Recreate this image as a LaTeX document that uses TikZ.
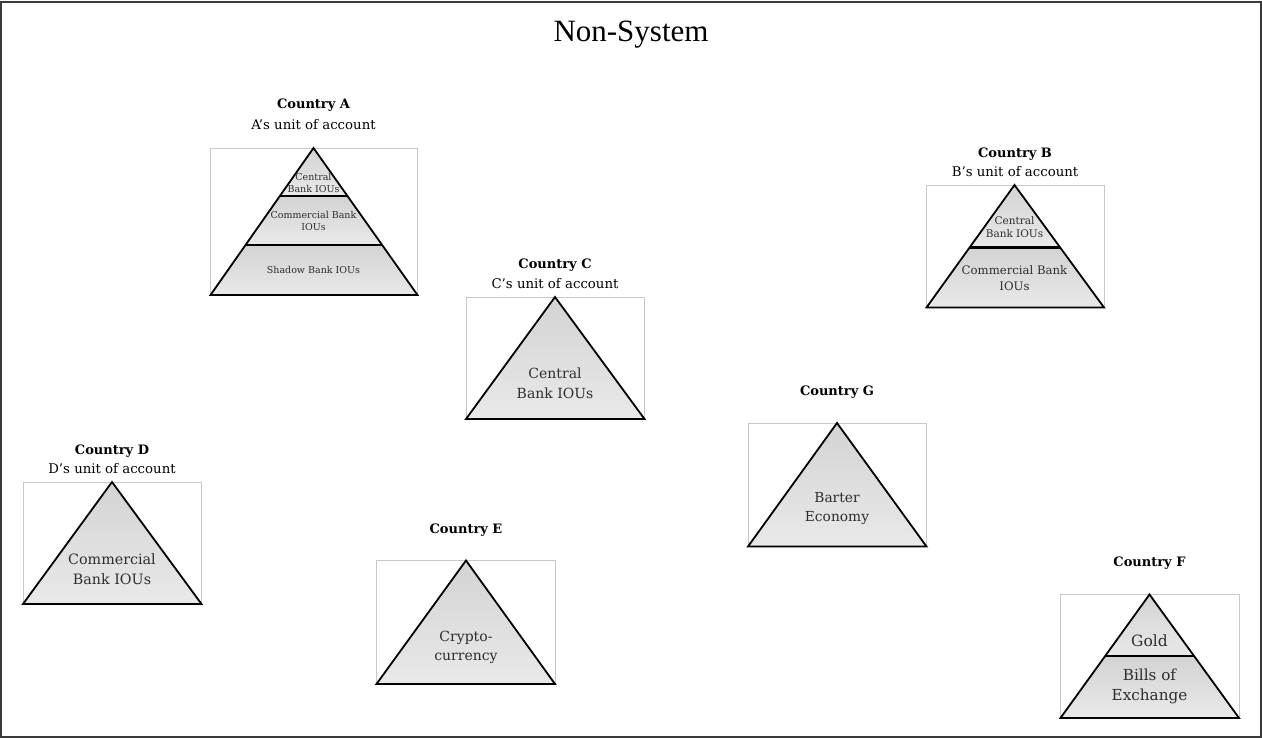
\documentclass[tikz,border=0pt]{standalone}
\usepackage{fontspec}
\setmainfont{DejaVu Serif}
\newfontfamily\titlefont{Liberation Serif}
\usetikzlibrary{calc}
\definecolor{lbl}{HTML}{2E2E2E}
\definecolor{frm}{HTML}{C8C8C8}
\definecolor{gtop}{HTML}{D3D3D3}
\definecolor{gbot}{HTML}{E9E9E9}
\definecolor{bord}{HTML}{3A3A3A}
\tikzset{
  band/.style={top color=gtop, bottom color=gbot, draw=none},
  triline/.style={draw=black, line width=1.8pt, line join=miter},
  divline/.style={draw=black, line width=2.2pt},
  frame/.style={draw=frm, line width=0.8pt},
  head/.style={font=\fontsize{13}{16}\selectfont\bfseries, inner sep=0, anchor=base},
  sub/.style={font=\fontsize{13.3}{16}\selectfont, inner sep=0, anchor=base},
  lab/.style={text=lbl, align=center, inner sep=0},
}
\begin{document}
\begin{tikzpicture}[x=1pt,y=-1pt]
\useasboundingbox (0,0) rectangle (1262,738);
\draw[draw=bord, line width=2pt] (1,2) rectangle (1261,737);
\node[font=\titlefont\fontsize{31}{31}\selectfont, inner sep=0] (title) at (631,35) {Non-System};

% ---------- Country A ----------
\coordinate (Aa) at (313.5,148); \coordinate (Al) at (210.5,295); \coordinate (Ar) at (417.5,295);
\draw[frame] (210.5,148) rectangle (417.5,295);
\path[band] (Aa) -- ($(Aa)!0.3265!(Al)$) -- ($(Aa)!0.3265!(Ar)$) -- cycle;
\path[band] ($(Aa)!0.3265!(Al)$) -- ($(Aa)!0.66!(Al)$) -- ($(Aa)!0.66!(Ar)$) -- ($(Aa)!0.3265!(Ar)$) -- cycle;
\path[band] ($(Aa)!0.66!(Al)$) -- (Al) -- (Ar) -- ($(Aa)!0.66!(Ar)$) -- cycle;
\draw[divline] ($(Aa)!0.3265!(Al)$) -- ($(Aa)!0.3265!(Ar)$);
\draw[divline] ($(Aa)!0.66!(Al)$) -- ($(Aa)!0.66!(Ar)$);
\draw[triline] (Aa) -- (Al) -- (Ar) -- cycle;
\node[head] (Ah) at (313.5,108.5) {Country A};
\node[sub] (As) at (313.5,129.5) {A’s unit of account};
\node[lab, font=\fontsize{9.5}{12}\selectfont] (A1) at (313.5,182.5) {Central\\Bank IOUs};
\node[lab, font=\fontsize{9.5}{12}\selectfont] (A2) at (313.5,221) {Commercial Bank\\IOUs};
\node[lab, font=\fontsize{9.5}{12}\selectfont] (A3) at (313.5,270) {Shadow Bank IOUs};

% ---------- Country B ----------
\coordinate (Ba) at (1014.5,185); \coordinate (Bl) at (926.5,307.5); \coordinate (Br) at (1104,307.5);
\draw[frame] (926.5,185) rectangle (1104,307.5);
\path[band] (Ba) -- ($(Ba)!0.51!(Bl)$) -- ($(Ba)!0.51!(Br)$) -- cycle;
\path[band] ($(Ba)!0.51!(Bl)$) -- (Bl) -- (Br) -- ($(Ba)!0.51!(Br)$) -- cycle;
\draw[divline] ($(Ba)!0.51!(Bl)$) -- ($(Ba)!0.51!(Br)$);
\draw[triline] (Ba) -- (Bl) -- (Br) -- cycle;
\node[head] (Bh) at (1015,157.5) {Country B};
\node[sub] (Bs) at (1015,176.5) {B’s unit of account};
\node[lab, font=\fontsize{10.5}{13.5}\selectfont] (B1) at (1014.5,227) {Central\\Bank IOUs};
\node[lab, font=\fontsize{11.7}{15.7}\selectfont] (B2) at (1014.5,278) {Commercial Bank\\IOUs};

% ---------- Country C ----------
\coordinate (Ca) at (555,297); \coordinate (Cl) at (466,419); \coordinate (Cr) at (644.5,419);
\draw[frame] (466,297) rectangle (644.5,419);
\path[band] (Ca) -- (Cl) -- (Cr) -- cycle;
\draw[triline] (Ca) -- (Cl) -- (Cr) -- cycle;
\node[head] (Ch) at (555,268.5) {Country C};
\node[sub] (Cs) at (555,288.5) {C’s unit of account};
\node[lab, font=\fontsize{14}{20}\selectfont] (C1) at (555,383) {Central\\Bank IOUs};

% ---------- Country D ----------
\coordinate (Da) at (112,482); \coordinate (Dl) at (23,604); \coordinate (Dr) at (201.5,604);
\draw[frame] (23,482) rectangle (201.5,604);
\path[band] (Da) -- (Dl) -- (Dr) -- cycle;
\draw[triline] (Da) -- (Dl) -- (Dr) -- cycle;
\node[head] (Dh) at (112,454) {Country D};
\node[sub] (Ds) at (112,473.5) {D’s unit of account};
\node[lab, font=\fontsize{14.3}{20}\selectfont] (D1) at (112,569) {Commercial\\Bank IOUs};

% ---------- Country E ----------
\coordinate (Ea) at (466,560.5); \coordinate (El) at (376.5,684); \coordinate (Er) at (555,684);
\draw[frame] (376.5,560.5) rectangle (555,684);
\path[band] (Ea) -- (El) -- (Er) -- cycle;
\draw[triline] (Ea) -- (El) -- (Er) -- cycle;
\node[head] (Eh) at (466,533) {Country E};
\node[lab, font=\fontsize{14}{19}\selectfont] (E1) at (466,647.5) {Crypto-\\currency};

% ---------- Country G ----------
\coordinate (Ga) at (837,423); \coordinate (Gl) at (748,546.5); \coordinate (Gr) at (926.5,546.5);
\draw[frame] (748,423) rectangle (926.5,546.5);
\path[band] (Ga) -- (Gl) -- (Gr) -- cycle;
\draw[triline] (Ga) -- (Gl) -- (Gr) -- cycle;
\node[head] (Gh) at (837,395) {Country G};
\node[lab, font=\fontsize{13.8}{19}\selectfont] (G1) at (837,509) {Barter\\Economy};

% ---------- Country F ----------
\coordinate (Fa) at (1149.5,594.5); \coordinate (Fl) at (1060.5,718); \coordinate (Fr) at (1239,718);
\draw[frame] (1060.5,594.5) rectangle (1239,718);
\path[band] (Fa) -- ($(Fa)!0.498!(Fl)$) -- ($(Fa)!0.498!(Fr)$) -- cycle;
\path[band] ($(Fa)!0.498!(Fl)$) -- (Fl) -- (Fr) -- ($(Fa)!0.498!(Fr)$) -- cycle;
\draw[divline] ($(Fa)!0.498!(Fl)$) -- ($(Fa)!0.498!(Fr)$);
\draw[triline] (Fa) -- (Fl) -- (Fr) -- cycle;
\node[head] (Fh) at (1149.5,566) {Country F};
\node[lab, font=\fontsize{15.5}{20}\selectfont] (F1) at (1149.5,641) {Gold};
\node[lab, font=\fontsize{15.2}{20}\selectfont] (F2) at (1149.5,686.5) {Bills of\\Exchange};
\end{tikzpicture}
\end{document}
